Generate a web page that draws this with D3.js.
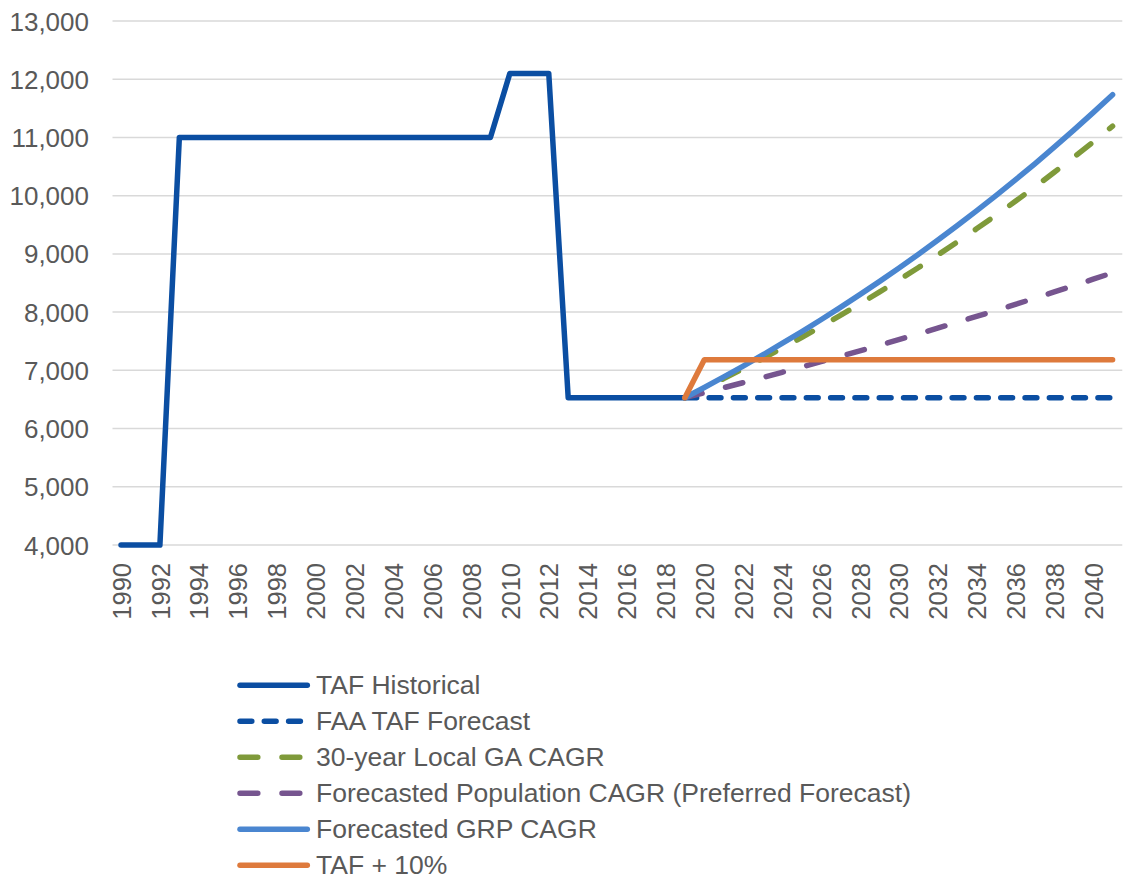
<!DOCTYPE html>
<html>
<head>
<meta charset="utf-8">
<script src="https://cdn.jsdelivr.net/npm/d3@7"></script>
<style>
  html, body { margin: 0; padding: 0; background: #ffffff; }
  svg { display: block; font-family: "Liberation Sans", Arial, sans-serif; }
</style>
</head>
<body>
<svg id="chart" width="1127" height="877"></svg>
<script>
// ---------- DATA ----------
const years = [1990,1991,1992,1993,1994,1995,1996,1997,1998,1999,2000,2001,2002,2003,2004,2005,2006,2007,2008,2009,2010,2011,2012,2013,2014,2015,2016,2017,2018,2019,2020,2021,2022,2023,2024,2025,2026,2027,2028,2029,2030,2031,2032,2033,2034,2035,2036,2037,2038,2039,2040,2041];
const histYears = [1990,1991,1992,1993,1994,1995,1996,1997,1998,1999,2000,2001,2002,2003,2004,2005,2006,2007,2008,2009,2010,2011,2012,2013,2014,2015,2016,2017,2018,2019];
const tafHistorical = [4000,4000,4000,11000,11000,11000,11000,11000,11000,11000,11000,11000,11000,11000,11000,11000,11000,11000,11000,11000,12100,12100,12100,6530,6530,6530,6530,6530,6530,6530];
const fcYears = [2019,2020,2021,2022,2023,2024,2025,2026,2027,2028,2029,2030,2031,2032,2033,2034,2035,2036,2037,2038,2039,2040,2041];
const faaTafForecast = [6530,6530,6530,6530,6530,6530,6530,6530,6530,6530,6530,6530,6530,6530,6530,6530,6530,6530,6530,6530,6530,6530,6530];
const localGaCagr = [6530,6692,6858,7028,7202,7381,7564,7752,7944,8141,8343,8550,8762,8979,9202,9430,9664,9903,10149,10401,10658,10923,11194];
const populationCagr = [6530,6615,6701,6788,6876,6966,7056,7148,7241,7335,7430,7527,7625,7724,7824,7926,8029,8133,8239,8346,8455,8565,8676];
const grpCagr = [6530,6706,6887,7073,7264,7461,7662,7869,8081,8300,8524,8754,8990,9233,9482,9738,10001,10271,10548,10833,11126,11426,11735];
const tafPlus10 = [6530,7183,7183,7183,7183,7183,7183,7183,7183,7183,7183,7183,7183,7183,7183,7183,7183,7183,7183,7183,7183,7183,7183];
const yTicks = [4000,5000,6000,7000,8000,9000,10000,11000,12000,13000];
const xTickLabels = [1990,1992,1994,1996,1998,2000,2002,2004,2006,2008,2010,2012,2014,2016,2018,2020,2022,2024,2026,2028,2030,2032,2034,2036,2038,2040];
const seriesNames = ["TAF Historical","FAA TAF Forecast","30-year Local GA CAGR","Forecasted Population CAGR (Preferred Forecast)","Forecasted GRP CAGR","TAF + 10%"];

// ---------- STYLE ----------
const LW = 5.5;
const series = [
  {name: seriesNames[0], xs: histYears, ys: tafHistorical, color: "#0B4EA2", dash: null},
  {name: seriesNames[1], xs: fcYears, ys: faaTafForecast, color: "#0B4EA2", dash: "11.8,12.5"},
  {name: seriesNames[2], xs: fcYears, ys: localGaCagr, color: "#7F9A3A", dash: "17.8,24.2"},
  {name: seriesNames[3], xs: fcYears, ys: populationCagr, color: "#76558F", dash: "17.8,24.2"},
  {name: seriesNames[4], xs: fcYears, ys: grpCagr, color: "#4A86D0", dash: null},
  {name: seriesNames[5], xs: fcYears, ys: tafPlus10, color: "#DE7A3C", dash: null}
];

const svg = d3.select("#chart");
const x = d3.scaleBand().domain(years).range([111.3, 1122.3]).padding(0);
const xc = v => x(v) + x.bandwidth() / 2;
const y = d3.scaleLinear().domain([4000, 13000]).range([545, 21]);

// gridlines
svg.append("g").selectAll("line").data(yTicks).join("line")
  .attr("x1", 112.5).attr("x2", 1122.3)
  .attr("y1", d => y(d)).attr("y2", d => y(d))
  .attr("stroke", "#D9D9D9").attr("stroke-width", 1.5);

// y axis labels
const yAxis = d3.axisLeft(y).tickValues(yTicks).tickFormat(d3.format(",")).tickSize(0).tickPadding(0);
const yg = svg.append("g").attr("transform", "translate(89,0)").call(yAxis);
yg.select(".domain").remove();
yg.selectAll("text").attr("font-size", 26).attr("fill", "#595959")
  .attr("font-family", "'Liberation Sans', Arial, sans-serif").attr("dy", "0.35em").attr("x", 0);

// x axis labels
const xAxis = d3.axisBottom(x).tickValues(xTickLabels).tickSize(0).tickPadding(0);
const xg = svg.append("g").attr("transform", "translate(0,545)").call(xAxis);
xg.select(".domain").remove();
xg.selectAll("text").attr("font-size", 25.5).attr("fill", "#595959")
  .attr("font-family", "'Liberation Sans', Arial, sans-serif")
  .attr("transform", "rotate(-90)")
  .attr("text-anchor", "end")
  .attr("x", -18).attr("y", 0).attr("dy", "0.38em");

// lines
const line = d3.line().x(d => xc(d[0])).y(d => y(d[1]));
series.forEach(s => {
  const pts = s.xs.map((yr, i) => [yr, s.ys[i]]);
  svg.append("path").datum(pts)
    .attr("d", line)
    .attr("fill", "none")
    .attr("stroke", s.color)
    .attr("stroke-width", LW)
    .attr("stroke-linejoin", "round")
    .attr("stroke-linecap", "round")
    .attr("stroke-dasharray", s.dash);
});

// legend
const leg = svg.append("g");
const rowY = d3.scalePoint().domain(seriesNames).range([685.2, 865.2]);
series.forEach(s => {
  const ry = rowY(s.name);
  leg.append("line")
    .attr("x1", 240).attr("x2", 307.3).attr("y1", ry).attr("y2", ry)
    .attr("stroke", s.color).attr("stroke-width", LW)
    .attr("stroke-linecap", "round")
    .attr("stroke-dasharray", s.dash);
  leg.append("text")
    .attr("x", 316).attr("y", ry)
    .attr("dy", "0.35em")
    .attr("font-size", 26.5)
    .attr("fill", "#595959")
    .text(s.name);
});
</script>
</body>
</html>
